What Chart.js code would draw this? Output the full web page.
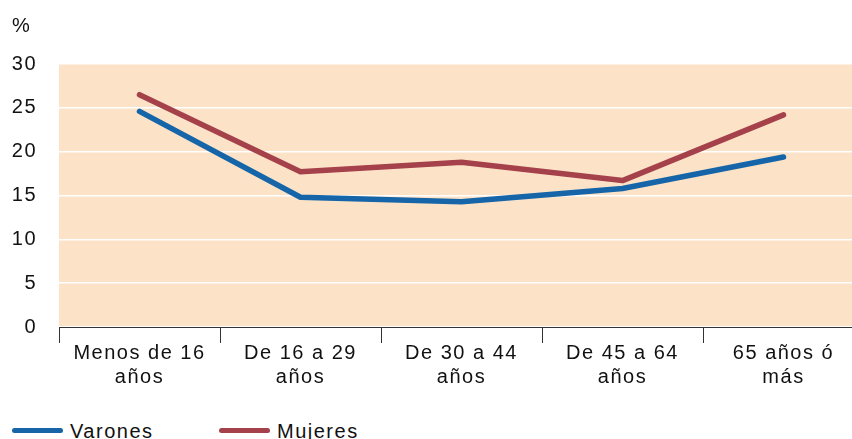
<!DOCTYPE html>
<html lang="es">
<head>
<meta charset="UTF-8">
<title>Varones y Mujeres por edad</title>
<script src="https://cdn.jsdelivr.net/npm/chart.js@4.4.0/dist/chart.umd.min.js"></script>
<style>
  html, body { margin: 0; padding: 0; background: #fff; overflow: hidden; }
  #wrap { position: relative; width: 864px; height: 400px; }
  #unit { position: absolute; left: 12px; top: 14px; font: 20px "Liberation Sans", Arial, sans-serif; color: #111; }
  .legend { position: absolute; top: 420px; font: 20px "Liberation Sans", Arial, sans-serif; color: #111; letter-spacing: 1.5px; }
  .legend span.sw { display: inline-block; width: 51px; height: 5px; border-radius: 3px; vertical-align: middle; margin-right: 7px; position: relative; top: -2px; }
</style>
</head>
<body>
<div id="wrap">
  <canvas id="lineChart" width="864" height="400"></canvas>
  <div id="unit">%</div>
</div>
<div class="legend" style="left:12px"><span class="sw" style="background:#1565a8"></span>Varones</div>
<div class="legend" style="left:219px"><span class="sw" style="background:#a5414a"></span>Mujeres</div>

<script>
// categories and values
const categories = [
  ["Menos de 16", "años"],
  ["De 16 a 29", "años"],
  ["De 30 a 44", "años"],
  ["De 45 a 64", "años"],
  ["65 años ó", "más"]
];
const varones = [24.6, 14.8, 14.3, 15.8, 19.4];
const mujeres = [26.5, 17.7, 18.8, 16.7, 24.2];
const yTicks = [0, 5, 10, 15, 20, 25, 30];

// peach plot background
const plotBg = {
  id: 'plotBg',
  beforeDraw(chart) {
    const a = chart.chartArea, ctx = chart.ctx;
    ctx.save();
    ctx.fillStyle = '#fce3c8';
    ctx.fillRect(a.left, a.top, a.right - a.left, a.bottom - a.top);
    ctx.restore();
    ctx.letterSpacing = '1.5px';
  }
};

const ctx = document.getElementById('lineChart').getContext('2d');
new Chart(ctx, {
  type: 'line',
  data: {
    labels: categories,
    datasets: [
      { label: 'Varones', data: varones, borderColor: '#1565a8', borderWidth: 5.5, pointRadius: 0, tension: 0, borderCapStyle: 'round', borderJoinStyle: 'round' },
      { label: 'Mujeres', data: mujeres, borderColor: '#a5414a', borderWidth: 5.5, pointRadius: 0, tension: 0, borderCapStyle: 'round', borderJoinStyle: 'round' }
    ]
  },
  options: {
    responsive: false,
    animation: false,
    layout: { padding: { top: 64, right: 0, left: 0, bottom: 0 } },
    plugins: { legend: { display: false }, tooltip: { enabled: false } },
    scales: {
      x: {
        offset: true,
        grid: { offset: true, drawOnChartArea: false, drawTicks: true, tickLength: 16, color: '#333', lineWidth: 1 },
        border: { display: true, color: '#333', width: 1 },
        ticks: { color: '#111', padding: -2, maxRotation: 0, autoSkip: false, font: { size: 20, family: '"Liberation Sans", Arial, sans-serif', lineHeight: 1.2 } },
        afterFit(s) { s.height = 73; }
      },
      y: {
        min: 0, max: 30,
        afterBuildTicks(s) { s.ticks = yTicks.map(v => ({ value: v })); },
        grid: { color: '#ffffff', lineWidth: 1.5, drawTicks: false },
        border: { display: false },
        ticks: { color: '#111', padding: 22, font: { size: 20, family: '"Liberation Sans", Arial, sans-serif' } },
        afterFit(s) { s.width = 59; }
      }
    }
  },
  plugins: [plotBg]
});
</script>
</body>
</html>
